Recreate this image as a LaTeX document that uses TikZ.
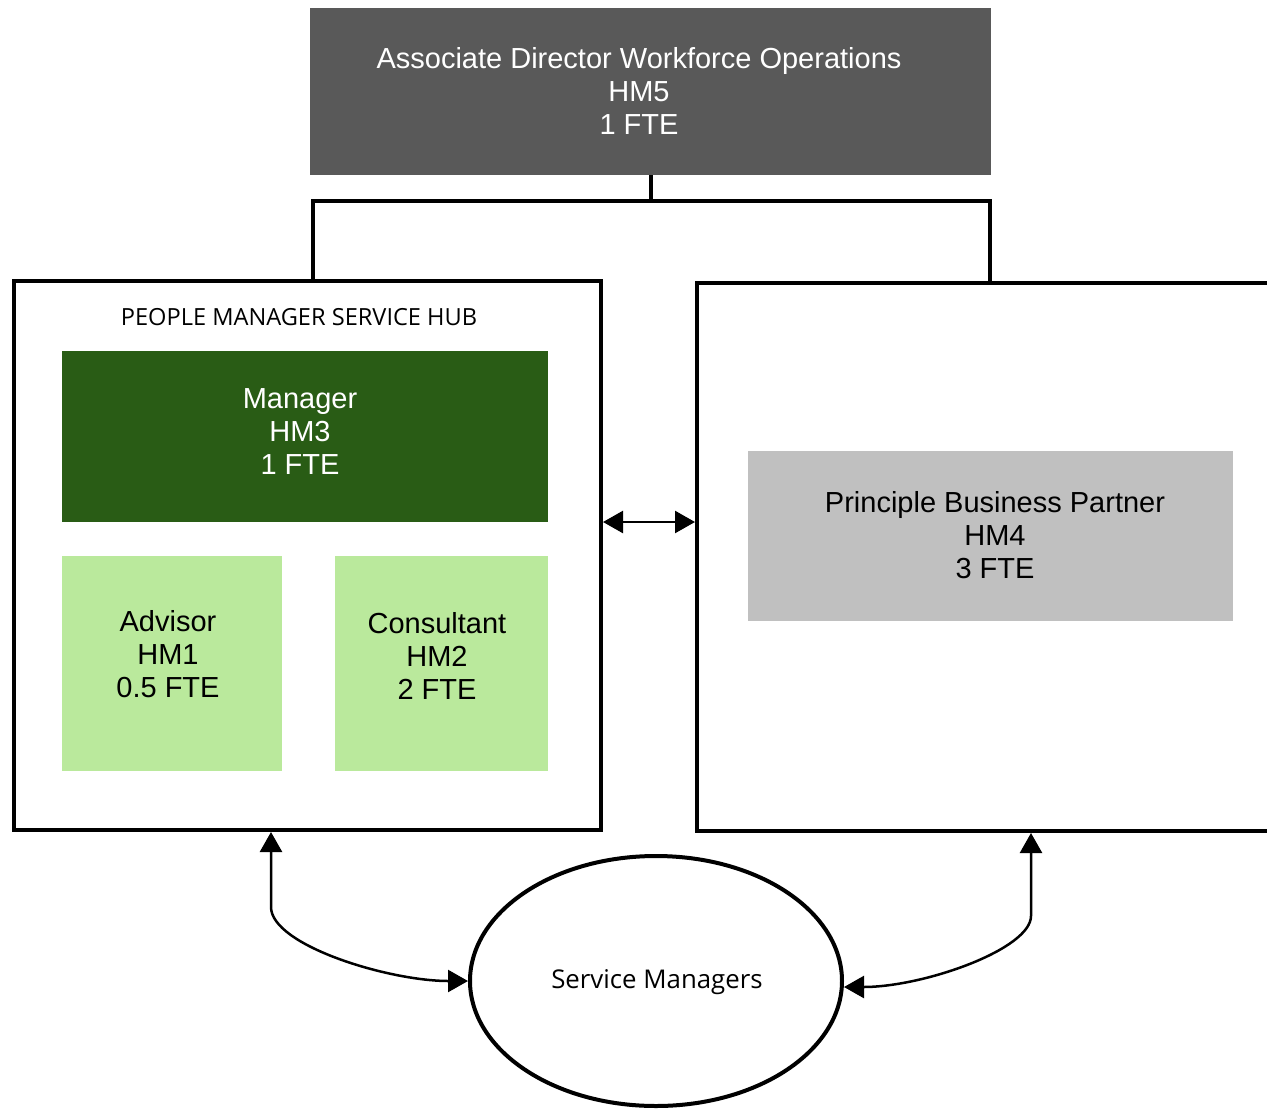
\documentclass[tikz,border=0pt]{standalone}
\usepackage{fontspec}
\setmainfont{Liberation Sans}
\newfontfamily\segfont{Open Sans}
\usetikzlibrary{arrows.meta,shapes.geometric}
\definecolor{topgray}{HTML}{595959}
\definecolor{darkgreen}{HTML}{295C15}
\definecolor{lightgreen}{HTML}{BAE99C}
\definecolor{pbpgray}{HTML}{C0C0C0}
\tikzset{
  rolebox/.style={rectangle, inner sep=0pt},
  roletext/.style={inner sep=0pt, align=center, font=\fontsize{29}{33}\selectfont},
  frame/.style={rectangle, draw=black, line width=4pt, inner sep=0pt},
  conn/.style={draw=black, line width=4pt},
  dbl/.style={draw=black, line width=2.5pt, {Triangle[length=20pt,width=22pt]}-{Triangle[length=20pt,width=22pt]}},
}
\begin{document}
\begin{tikzpicture}[x=1pt,y=-1pt]
\useasboundingbox (0,0) rectangle (1267,1109);
% top box
\node[rolebox, fill=topgray, minimum width=681pt, minimum height=167pt] (top) at (650.5,91.5) {};
\node[roletext, text=white] (toptext) at (639,91) {Associate Director Workforce Operations\\HM5\\1 FTE};
% frames
\node[frame, minimum width=587pt, minimum height=549pt] (lbox) at (307.5,555.5) {};
\node[frame, minimum width=586pt, minimum height=548pt] (rbox) at (990,557) {};
\node[font=\segfont\fontsize{23.6}{27}\selectfont, inner sep=0pt] (hub) at (299,317) {PEOPLE MANAGER SERVICE HUB};
% inner boxes
\node[rolebox, fill=darkgreen, minimum width=486pt, minimum height=171pt] (mgr) at (305,436.5) {};
\node[roletext, text=white] (mgrtext) at (300,432) {Manager\\HM3\\1 FTE};
\node[rolebox, fill=lightgreen, minimum width=220pt, minimum height=215pt] (adv) at (172,663.5) {};
\node[roletext, text=black] (advtext) at (168,654) {Advisor\\HM1\\0.5 FTE};
\node[rolebox, fill=lightgreen, minimum width=213pt, minimum height=215pt] (cons) at (441.5,663.5) {};
\node[roletext, text=black] (constext) at (437,656) {Consultant\\HM2\\2 FTE};
\node[rolebox, fill=pbpgray, minimum width=485pt, minimum height=170pt] (pbp) at (990.5,536) {};
\node[roletext, text=black] (pbptext) at (995,535) {Principle Business Partner\\HM4\\3 FTE};
% ellipse
\node[ellipse, draw=black, line width=4pt, minimum width=372pt, minimum height=250pt, inner sep=0pt] (sm) at (656,981) {};
\node[font=\segfont\fontsize{25.8}{30}\selectfont, inner sep=0pt] (smtext) at (657,982) {Service Managers};
% connectors
\draw[conn] (top.south) -- ++(0,26) coordinate (junc) -| ([xshift=5.5pt]lbox.north);
\draw[conn] (junc) -| (rbox.north);
\draw[dbl] ([yshift=33.5pt]lbox.east) -- ([yshift=33.5pt]lbox.east -| rbox.west);
\draw[dbl] ([xshift=-36.5pt]lbox.south) -- ++(0,75) .. controls +(0,38) and +(-80,0) .. (sm.west);
\draw[dbl] ([xshift=41pt]rbox.south) -- ++(0,83) .. controls +(0,33) and +(80,0) .. ([yshift=-6pt]sm.east);
\end{tikzpicture}
\end{document}
